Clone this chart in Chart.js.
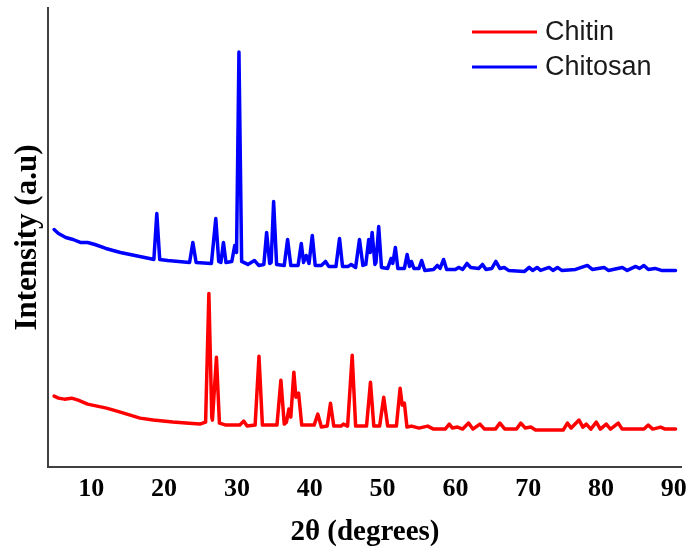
<!DOCTYPE html>
<html>
<head>
<meta charset="utf-8">
<script src="https://cdn.jsdelivr.net/npm/chart.js@4.4.0/dist/chart.umd.min.js"></script>
<style>
  body { margin: 0; background: #fff; }
</style>
</head>
<body>
<canvas id="myChart" width="694" height="553"></canvas>
<script>
// XRD patterns, 2-theta in degrees / intensity in arbitrary units
var chitosanX = [4.9, 5.5, 6.5, 7.5, 8.5, 9.5, 10.5, 12, 14, 16, 18, 18.6, 19.0, 19.4, 20.5, 22, 23.5, 23.95, 24.4,
  26.5, 27.1, 27.5, 27.8, 28.15, 28.5, 29.3, 29.7, 29.95, 30.28, 30.65, 31.5, 32.4, 33.0, 33.7, 34.08, 34.5, 34.7,
  35.04, 35.45, 36.5, 36.96, 37.4, 38.4, 38.84, 39.15, 39.52, 39.9, 40.35, 40.75, 41.6, 42.17, 42.6, 43.6, 44.09,
  44.5, 45.3, 45.69, 46.3, 46.83, 47.3, 47.7, 48.1, 48.3, 48.57, 48.95, 49.1, 49.47, 49.85, 50.7, 51.17, 51.4,
  51.76, 52.1, 53.0, 53.37, 53.7, 53.96, 54.3, 55.0, 55.37, 55.8, 57.0, 57.52, 57.9, 58.38, 58.8, 60.0, 60.44,
  61.0, 61.59, 62.1, 63.2, 63.73, 64.2, 65.0, 65.56, 66.1, 66.7, 67.3, 69.5, 70.13, 70.6, 71.22, 71.7, 72.87,
  73.4, 74.01, 74.6, 76.5, 78.12, 78.8, 80.41, 81.0, 82.92, 83.6, 84.76, 85.3, 85.89, 86.5, 87.4, 88.3, 90.23];
var chitosanY = [238, 234, 230, 228, 225, 225, 223, 219, 215, 212, 209, 208, 254, 208, 207, 206, 205, 225, 205,
  204, 249, 206, 205, 225, 205, 206, 222, 215, 416, 206, 203, 207, 202, 203, 235, 204, 205,
  266, 203, 202, 228, 202, 202, 224, 205, 212, 204, 232, 202, 202, 206, 201, 201, 229,
  201, 201, 203, 200, 228, 202, 203, 228, 215, 235, 203, 205, 241, 200, 199, 209, 204,
  220, 199, 199, 213, 201, 206, 199, 199, 207, 197, 198, 202, 199, 208, 198, 198, 200,
  198, 204, 200, 199, 203, 198, 199, 206, 199, 200, 197, 196, 200, 197, 200, 197, 200,
  197, 200, 197, 198, 202, 198, 200, 197, 200, 197, 201, 199, 202, 198, 199, 197, 197];

var chitinX = [4.9, 5.5, 6.3, 7.3, 8.2, 9.5, 10.8, 12.1, 14, 16.7, 18.5, 21.2, 23, 24.9, 25.7, 26.15, 26.55, 26.64,
  27.19, 27.6, 28.5, 30.4, 30.93, 31.4, 32.5, 33.03, 33.5, 35.5, 36.04, 36.5, 36.8, 37.14, 37.4, 37.82, 38.1,
  38.47, 38.9, 40.6, 41.11, 41.6, 42.4, 42.85, 43.3, 44.3, 44.63, 45.2, 45.83, 46.3, 47.8, 48.34, 48.8, 49.6,
  50.16, 50.7, 51.9, 52.41, 52.7, 53.0, 53.35, 54.0, 55, 56.19, 57, 58.6, 59.16, 59.6, 60.3, 61, 61.81, 62.4,
  63.37, 64, 65.5, 66.11, 66.8, 68.4, 68.99, 69.6, 70.36, 71, 74.8, 75.38, 75.9, 76.98, 77.5, 77.98, 78.6,
  79.35, 79.9, 80.72, 81.3, 82.37, 82.9, 85.9, 86.48, 87.1, 88.18, 88.8, 90.23];
var chitinY = [71, 69, 68, 69, 67, 63, 61, 59, 55, 49, 47, 45, 44, 43, 45, 174, 50, 47,
  110, 44, 42, 42, 46, 41, 42, 111, 42, 42, 87, 43, 45, 58, 50, 95, 70,
  74, 42, 42, 53, 40, 41, 64, 41, 41, 43, 41, 112, 41, 41, 85, 41, 41,
  70, 41, 41, 79, 62, 64, 40, 41, 39, 41, 38, 38, 43, 39, 40, 38, 44, 38,
  43, 38, 38, 44, 38, 38, 44, 39, 40, 37, 37, 44, 39, 47, 40, 43, 38,
  45, 38, 43, 38, 44, 38, 38, 42, 38, 40, 38, 38];

var xTicks = [10, 20, 30, 40, 50, 60, 70, 80, 90];

function toPoints(xs, ys) {
  var pts = [];
  for (var i = 0; i < xs.length; i++) {
    pts.push({ x: xs[i], y: ys[i] });
  }
  return pts;
}

// legend drawn inside the plot, top right
var lineLegend = {
  id: 'lineLegend',
  afterDraw: function(chart) {
    var ctx = chart.ctx;
    ctx.save();
    ctx.font = '27px "Liberation Sans", Arial, sans-serif';
    ctx.textBaseline = 'middle';
    chart.data.datasets.forEach(function(ds, i) {
      var y = 32 + i * 35;
      ctx.strokeStyle = ds.borderColor;
      ctx.lineWidth = 3;
      ctx.beginPath();
      ctx.moveTo(472, y);
      ctx.lineTo(537, y);
      ctx.stroke();
      ctx.fillStyle = '#1a1a1a';
      ctx.fillText(ds.label, 545, y + 1);
    });
    ctx.restore();
  }
};

var ctx = document.getElementById('myChart');
var myChart = new Chart(ctx, {
  type: 'line',
  data: {
    datasets: [{
      label: 'Chitin',
      data: toPoints(chitinX, chitinY),
      borderColor: 'rgb(255, 0, 0)',
      borderWidth: 3.5,
      borderJoinStyle: 'round',
      borderCapStyle: 'round',
      pointRadius: 0,
      tension: 0
    }, {
      label: 'Chitosan',
      data: toPoints(chitosanX, chitosanY),
      borderColor: 'rgb(0, 0, 255)',
      borderWidth: 3.5,
      borderJoinStyle: 'round',
      borderCapStyle: 'round',
      pointRadius: 0,
      tension: 0
    }]
  },
  plugins: [lineLegend],
  options: {
    responsive: false,
    animation: false,
    layout: { padding: { top: 8, right: 11, left: 0, bottom: 0 } },
    plugins: {
      legend: { display: false },
      tooltip: { enabled: false }
    },
    scales: {
      x: {
        type: 'linear',
        min: 4.06,
        max: 91.1,
        afterFit: function(scale) { scale.height = 86; },
        afterBuildTicks: function(scale) {
          scale.ticks = xTicks.map(function(v) { return { value: v }; });
        },
        grid: { display: false, drawTicks: false },
        border: { display: true, color: '#404040', width: 2 },
        ticks: {
          padding: 7,
          color: '#000',
          font: { family: '"Liberation Serif", "Times New Roman", serif', size: 26, weight: 'bold' }
        },
        title: {
          display: true,
          text: '2θ (degrees)',
          color: '#000',
          padding: { top: 0, bottom: 3 },
          font: { family: '"Liberation Serif", "Times New Roman", serif', size: 29, weight: 'bold' }
        }
      },
      y: {
        min: 0,
        max: 460,
        afterFit: function(scale) { scale.width = 48; },
        grid: { display: false, drawTicks: false },
        border: { display: true, color: '#404040', width: 2 },
        ticks: { display: false },
        title: {
          display: true,
          text: 'Intensity (a.u)',
          color: '#000',
          padding: { top: 9, bottom: 0 },
          font: { family: '"Liberation Serif", "Times New Roman", serif', size: 31, weight: 'bold' }
        }
      }
    }
  }
});
</script>
</body>
</html>
